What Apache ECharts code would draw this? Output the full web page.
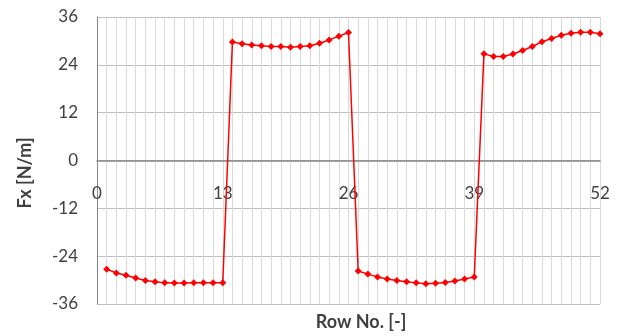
<!DOCTYPE html>
<html><head><meta charset="utf-8">
<script src="https://cdn.jsdelivr.net/npm/echarts@6/dist/echarts.min.js"></script>
<style>html,body{margin:0;padding:0;background:#fff}#c{width:622px;height:336px}</style>
</head><body><div id="c"></div>
<script>
const rows = [];
for (let i = 1; i <= 52; i++) rows.push(i);
const fxValues = [
  -27.3, -28.2, -28.8, -29.5, -30.1, -30.4, -30.7, -30.75, -30.75, -30.7, -30.7, -30.7, -30.7,
  29.75, 29.3, 29.0, 28.8, 28.6, 28.6, 28.4, 28.6, 28.8, 29.4, 30.25, 31.2, 32.1,
  -27.7, -28.5, -29.2, -29.75, -30.1, -30.4, -30.7, -30.9, -30.8, -30.6, -30.25, -29.75, -29.2,
  26.75, 26.1, 26.1, 26.7, 27.6, 28.6, 29.8, 30.6, 31.4, 31.9, 32.2, 32.2, 31.8
];
const xTicks = [0, 13, 26, 39, 52];
const yTicks = [-36, -24, -12, 0, 12, 24, 36];
const xName = 'Row No. [-]';
const yName = 'Fx [N/m]';

const FONT = 'Lato';
const gridTop = 17, gridBottom = 32, H = 336;
const zeroOffset = -((H - gridTop - gridBottom) / 2);
const chart = echarts.init(document.getElementById('c'), null, {renderer: 'canvas'});
chart.setOption({
  animation: false,
  textStyle: {fontFamily: FONT},
  grid: {left: 97, right: 22, top: gridTop, bottom: gridBottom, containLabel: false, outerBoundsMode: 'none'},
  xAxis: {
    type: 'value', min: xTicks[0], max: xTicks[xTicks.length - 1], interval: 13,
    position: 'bottom', offset: zeroOffset,
    axisLine: {show: true, onZero: false, lineStyle: {color: '#868686', width: 1.5}},
    axisTick: {show: false},
    axisLabel: {color: '#404040', fontSize: 17, margin: 25, fontFamily: FONT},
    splitLine: {show: true, lineStyle: {color: '#d9d9d9', width: 1}},
    minorTick: {show: false, splitNumber: 13},
    minorSplitLine: {show: true, lineStyle: {color: '#d9d9d9', width: 1}}
  },
  yAxis: {
    type: 'value', min: yTicks[0], max: yTicks[yTicks.length - 1], interval: 12,
    axisLine: {show: true, onZero: false, lineStyle: {color: '#868686', width: 1}},
    axisTick: {show: false},
    axisLabel: {color: '#404040', fontSize: 17, margin: 19, fontFamily: FONT},
    splitLine: {show: true, lineStyle: {color: '#bfbfbf', width: 1}}
  },
  graphic: [{
    type: 'text', x: 361, y: 322,
    style: {text: xName, fill: '#404040', font: 'bold 18px ' + FONT, textAlign: 'center', textVerticalAlign: 'middle'}
  }, {
    type: 'text', x: 25, y: 173, rotation: Math.PI / 2,
    style: {text: yName, fill: '#404040', font: 'bold 18px ' + FONT, textAlign: 'center', textVerticalAlign: 'middle'}
  }],
  series: [{
    type: 'line',
    data: rows.map((r, i) => [r, fxValues[i]]),
    symbol: 'diamond', symbolSize: 7,
    lineStyle: {color: '#ff0000', width: 1.5},
    itemStyle: {color: '#ff0000'}
  }]
});
</script></body></html>
